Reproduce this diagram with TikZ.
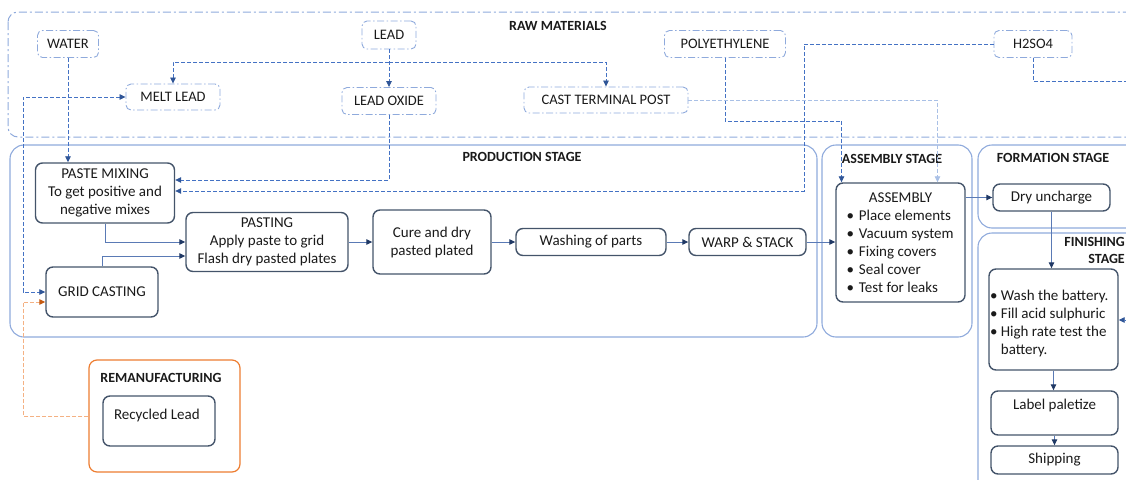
\documentclass[tikz,border=0pt]{standalone}
\usepackage{fontspec}
\setmainfont{Carlito}
\usetikzlibrary{arrows.meta}
\definecolor{rawc}{HTML}{8FAADC}
\definecolor{stagec}{HTML}{8FAADC}
\definecolor{procc}{HTML}{44546A}
\definecolor{linec}{HTML}{4472C4}
\definecolor{lightc}{HTML}{A9C0E6}
\definecolor{tipc}{HTML}{2F5597}
\definecolor{navyc}{HTML}{1F3864}
\definecolor{solidc}{HTML}{5A7AB5}
\definecolor{orangec}{HTML}{ED7D31}
\definecolor{orlight}{HTML}{F4B183}
\definecolor{ordark}{HTML}{C55A11}
\definecolor{txt}{HTML}{1A1A1A}
\newcommand{\lineL}[2]{\makebox[#1][l]{#2}}
\begin{document}
\begin{tikzpicture}[x=1pt,y=-1pt,
  rawframe/.style={draw=rawc, line width=1pt, dash pattern=on 8pt off 3pt on 2pt off 3pt, rounded corners=10pt},
  rawbox/.style={draw=rawc, line width=0.9pt, dash pattern=on 7pt off 2.5pt on 1.5pt off 2.5pt, rounded corners=5pt, inner sep=0pt, font=\fontsize{14.5}{17}\selectfont, text=txt},
  proc/.style={draw=procc, line width=1.4pt, rounded corners=7pt, inner sep=0pt, font=\fontsize{15}{18}\selectfont, text=txt, align=center},
  stage/.style={draw=stagec, line width=1.1pt, rounded corners=14pt},
  title/.style={font=\bfseries\fontsize{14}{17}\selectfont, text=txt, inner sep=0pt},
  dline/.style={draw=linec, line width=0.8pt, dash pattern=on 4pt off 2pt},
  lline/.style={draw=lightc, line width=0.8pt, dash pattern=on 4pt off 2pt},
  sline/.style={draw=solidc, line width=0.9pt},
  oline/.style={draw=orlight, line width=1pt, dash pattern=on 4pt off 2pt},
  arr/.style={-{Triangle[length=6pt,width=5.5pt,color=tipc]}},
  arrboth/.style={{Triangle[length=6pt,width=5.5pt,color=tipc]}-{Triangle[length=6pt,width=5.5pt,color=tipc]}},
  arrl/.style={-{Triangle[length=6pt,width=5.5pt,color=lightc]}},
  arrs/.style={-{Triangle[length=6pt,width=5.5pt,color=navyc]}},
  arro/.style={-{Triangle[length=6pt,width=5.5pt,color=ordark]}}
]
\useasboundingbox (0,0) rectangle (1126,479);
\clip (0,0) rectangle (1126,479);

% containers
\draw[rawframe] (8,12) rectangle (1160,137);
\draw[stage] (10,145) rectangle (817,337);
\draw[stage] (822,145) rectangle (972,337);
\draw[stage] (978,145) rectangle (1160,228);
\draw[stage] (978,233) rectangle (1160,500);
\node[draw=orangec, line width=1.2pt, rounded corners=8pt, minimum width=151pt, minimum height=112pt, inner sep=0pt] (reman) at (164.5,416) {};

% titles
\node[title] at (558,26) {RAW MATERIALS};
\node[title] at (522,157) {PRODUCTION STAGE};
\node[title] at (892,159) {ASSEMBLY STAGE};
\node[title] at (1053,158) {FORMATION STAGE};
\node[title, anchor=north east, align=right] at (1125,237) {FINISHING\\STAGE};
\node[title] at (161,378) {REMANUFACTURING};

% raw materials
\node[rawbox, minimum width=61pt, minimum height=27pt] (water) at (68,44) {WATER};
\node[rawbox, minimum width=54pt, minimum height=28pt] (lead) at (389,35) {LEAD};
\node[rawbox, minimum width=121pt, minimum height=27pt] (poly) at (725,44) {POLYETHYLENE};
\node[rawbox, minimum width=78pt, minimum height=27pt] (acid) at (1033,44) {H2SO4};
\node[rawbox, minimum width=94pt, minimum height=26pt] (melt) at (173,97) {MELT LEAD};
\node[rawbox, minimum width=94pt, minimum height=27pt] (oxide) at (389,101) {LEAD OXIDE};
\node[rawbox, minimum width=164pt, minimum height=26pt] (cast) at (606,100) {CAST TERMINAL POST};

% process boxes
\node[proc, minimum width=139pt, minimum height=60pt] (mix) at (105,193) {PASTE MIXING\\To get positive and\\negative mixes};
\node[proc, minimum width=112pt, minimum height=50pt] (grid) at (102,292) {GRID CASTING};
\node[proc, minimum width=162pt, minimum height=59pt] (pasting) at (267,242) {PASTING\\Apply paste to grid\\Flash dry pasted plates};
\node[proc, minimum width=118pt, minimum height=64pt] (cure) at (432,242) {Cure and dry\\pasted plated};
\node[proc, minimum width=150pt, minimum height=27pt] (wash) at (591,242) {Washing of parts};
\node[proc, minimum width=117pt, minimum height=27pt] (warp) at (747.5,242) {WARP \& STACK};
\node[proc, minimum width=129pt, minimum height=119pt] (asm) at (900.5,242.5) {ASSEMBLY\\
  \lineL{108pt}{•\hspace{5pt}Place elements}\\
  \lineL{108pt}{•\hspace{5pt}Vacuum system}\\
  \lineL{108pt}{•\hspace{5pt}Fixing covers}\\
  \lineL{108pt}{•\hspace{5pt}Seal cover}\\
  \lineL{108pt}{•\hspace{5pt}Test for leaks}};
\node[proc, minimum width=117pt, minimum height=27pt] (dry) at (1051.5,197.5) {Dry uncharge};
\node[proc, minimum width=129pt, minimum height=101pt] (fin) at (1053.5,319.5) {\mbox{}\\
  \lineL{127pt}{•\ Wash the battery.}\\
  \lineL{127pt}{•\ Fill acid sulphuric}\\
  \lineL{127pt}{•\ High rate test the}\\
  \lineL{127pt}{\hphantom{•\ }battery.}};
\node[proc, minimum width=127pt, minimum height=44pt] (label) at (1054.5,413) {Label paletize\\\mbox{}};
\node[proc, minimum width=127pt, minimum height=28pt] (ship) at (1054.5,460) {Shipping};
\node[proc, minimum width=112pt, minimum height=50pt] (recyc) at (159,421) {\lineL{90pt}{Recycled Lead}\\[-4pt]\mbox{}};

% raw material connectors
\draw[dline,arr] (lead) -- (oxide);
\draw[dline,arr] ([yshift=-13pt]lead.south) -| (melt.north);
\draw[dline,arr] ([yshift=-13pt]lead.south) -| (cast.north);
\draw[dline,arrboth] (melt.west) -- (23,97) |- (grid.west);
\draw[dline,arr] (water.south) -- (water.south |- mix.north);
\draw[dline,arr] (oxide.south) |- ([yshift=13pt]mix.east);
\draw[dline,arr] (acid.west) -- (804,44) |- ([yshift=2pt]mix.east);
\coordinate (offR) at (1135,81);
\draw[dline] (acid.south) |- (offR);
\coordinate (inR) at (1132,320);
\draw[dline,arr] (inR) -- (inR -| fin.east);
\draw[dline,arr] (poly.south) -- (725,121) -| ([xshift=-59pt]asm.north);
\draw[lline,arrl] (cast.east) -| ([xshift=37pt]asm.north);

% process connectors
\draw[sline,arrs] (mix.south) |- (pasting.west);
\draw[sline,arrs] (grid.north) |- ([yshift=-14pt]pasting.west);
\draw[sline,arrs] (pasting.east) -- (pasting.east -| cure.west);
\draw[sline,arrs] (cure.east) -- (cure.east -| wash.west);
\draw[sline,arrs] (wash.east) -- (wash.east -| warp.west);
\draw[sline,arrs] (warp.east) -- (warp.east -| asm.west);
\draw[sline,arrs] (asm.east |- dry.west) -- (dry.west);
\draw[sline,arrs] (dry.south) -- (dry.south |- fin.north);
\draw[sline,arrs] (fin.south) -- (fin.south |- label.north);
\draw[sline,arrs] (label.south) -- (label.south |- ship.north);

% remanufacturing
\draw[oline,arro] (reman.west) -- (23,416) |- ([yshift=-10pt]grid.west);
\end{tikzpicture}
\end{document}
